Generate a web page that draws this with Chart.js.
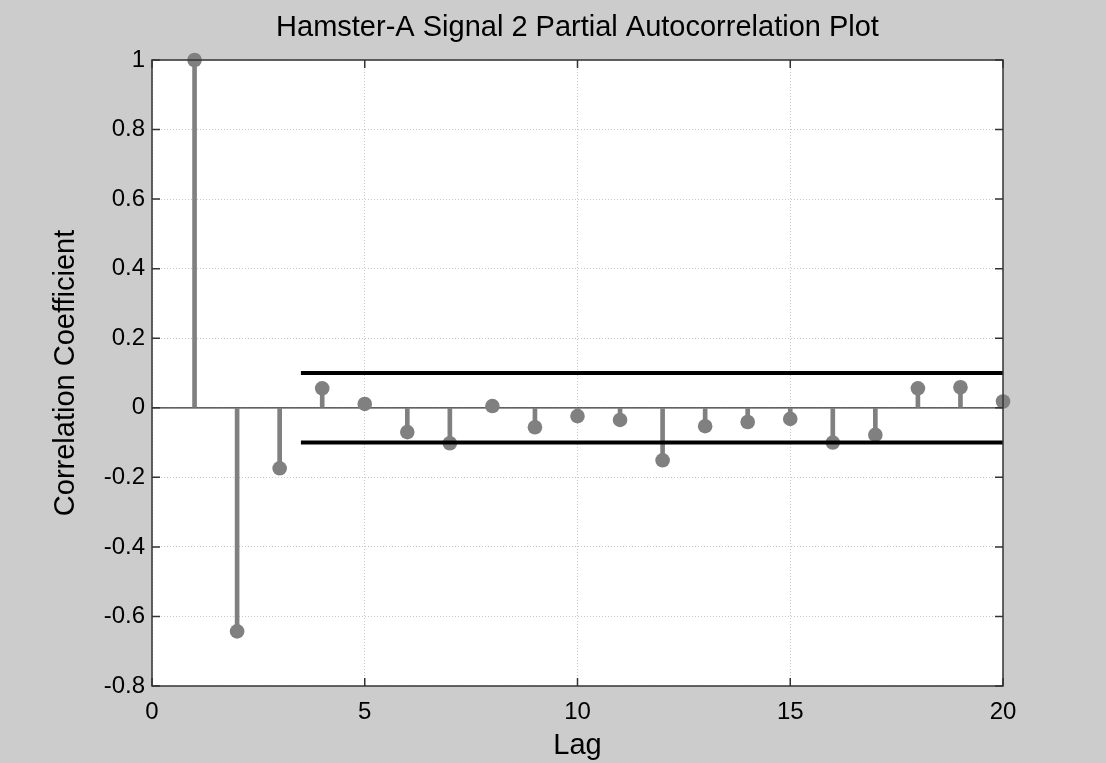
<!DOCTYPE html>
<html>
<head>
<meta charset="utf-8">
<script src="https://cdn.jsdelivr.net/npm/chart.js@4"></script>
<style>
  body { margin: 0; background: #cccccc; }
  #wrap { width: 1106px; height: 763px; }
</style>
</head>
<body>
<div id="wrap"><canvas id="myChart" width="1106" height="763"></canvas></div>
<script>
// lag numbers and partial autocorrelation values
let lags=[1,2,3,4,5,6,7,8,9,10,11,12,13,14,15,16,17,18,19,20];
let pacf=[1,-0.643,-0.174,0.056,0.011,-0.070,-0.102,0.005,-0.056,-0.024,-0.035,-0.151,-0.053,-0.041,-0.032,-0.100,-0.078,0.056,0.059,0.018];
// confidence bounds (drawn from lag 3.5 to 20)
let boundX=[3.5,20];
let boundUpper=0.1;
let boundLower=-0.1;
let xTicks=[0,5,10,15,20];
let yTicks=[-0.8,-0.6,-0.4,-0.2,0,0.2,0.4,0.6,0.8,1];

let font="'Liberation Sans', Arial, sans-serif";
let points=lags.map((l,i)=>({x:l,y:pacf[i]}));

// gray figure + white axes, frame and inward ticks like the original
let frame={
    id:'frame',
    beforeDraw(chart){
        const c=chart.ctx, a=chart.chartArea;
        c.save();
        c.fillStyle='#cccccc';
        c.fillRect(0,0,chart.width,chart.height);
        c.fillStyle='#ffffff';
        c.fillRect(a.left,a.top,a.right-a.left,a.bottom-a.top);
        c.restore();
    },
    afterDraw(chart){
        const c=chart.ctx, a=chart.chartArea;
        const xs=chart.scales.x, ys=chart.scales.y;
        c.save();
        c.strokeStyle='#333333';
        c.lineWidth=1.5;
        c.strokeRect(a.left,a.top,a.right-a.left,a.bottom-a.top);
        c.beginPath();
        xTicks.forEach(v=>{
            const px=xs.getPixelForValue(v);
            c.moveTo(px,a.bottom); c.lineTo(px,a.bottom-8);
            c.moveTo(px,a.top); c.lineTo(px,a.top+8);
        });
        yTicks.forEach(v=>{
            const py=ys.getPixelForValue(v);
            c.moveTo(a.left,py); c.lineTo(a.left+8,py);
            c.moveTo(a.right,py); c.lineTo(a.right-8,py);
        });
        c.stroke();
        c.restore();
    }
};

const ctx=document.getElementById('myChart').getContext('2d');
const myChart=new Chart(ctx,{
    type:'bar',
    data:{
        datasets:[
            {
                type:'line',
                data:boundX.map(x=>({x:x,y:boundUpper})),
                borderColor:'#000000',
                borderWidth:4,
                pointRadius:0,
                order:0
            },
            {
                type:'line',
                data:boundX.map(x=>({x:x,y:boundLower})),
                borderColor:'#000000',
                borderWidth:4,
                pointRadius:0,
                order:0
            },
            {
                type:'scatter',
                data:points,
                backgroundColor:'#808080',
                borderWidth:0,
                pointRadius:7.3,
                clip:false,
                order:1
            },
            {
                type:'bar',
                data:points,
                backgroundColor:'#808080',
                barThickness:4,
                order:2
            },
            {
                type:'line',
                data:[{x:0,y:0},{x:20,y:0}],
                borderColor:'#333333',
                borderWidth:1.2,
                pointRadius:0,
                order:3
            }
        ]
    },
    plugins:[frame],
    options:{
        responsive:false,
        animation:false,
        layout:{padding:{left:0,right:103,top:0,bottom:0}},
        plugins:{
            legend:{display:false},
            tooltip:{enabled:false},
            title:{
                display:true,
                fullSize:false,
                text:'Hamster-A Signal 2 Partial Autocorrelation Plot',
                color:'#000000',
                font:{family:font,size:29,weight:'normal'},
                padding:{top:11,bottom:14.2}
            }
        },
        scales:{
            x:{
                type:'linear',
                offset:false,
                min:0,max:20,
                afterBuildTicks:(s)=>{ s.ticks=xTicks.map(v=>({value:v})); },
                afterFit:(s)=>{ s.height=77; },
                grid:{color:'#c8c8c8',drawTicks:false,lineWidth:1,offset:false},
                border:{display:false,dash:[1,2]},
                ticks:{color:'#000000',font:{family:font,size:24},padding:12,maxRotation:0},
                title:{display:true,text:'Lag',color:'#000000',font:{family:font,size:29},padding:{top:0,bottom:0}}
            },
            y:{
                min:-0.8,max:1,
                afterBuildTicks:(s)=>{ s.ticks=yTicks.map(v=>({value:v})); },
                afterFit:(s)=>{ s.width=152; },
                grid:{color:'#c8c8c8',drawTicks:false,lineWidth:1},
                border:{display:false,dash:[1,2]},
                ticks:{color:'#000000',font:{family:font,size:24},padding:7,
                    callback:(v)=>String(Math.round(v*10)/10)},
                title:{display:true,text:'Correlation Coefficient',color:'#000000',font:{family:font,size:29},padding:{top:49,bottom:0}}
            }
        }
    }
});
</script>
</body>
</html>
